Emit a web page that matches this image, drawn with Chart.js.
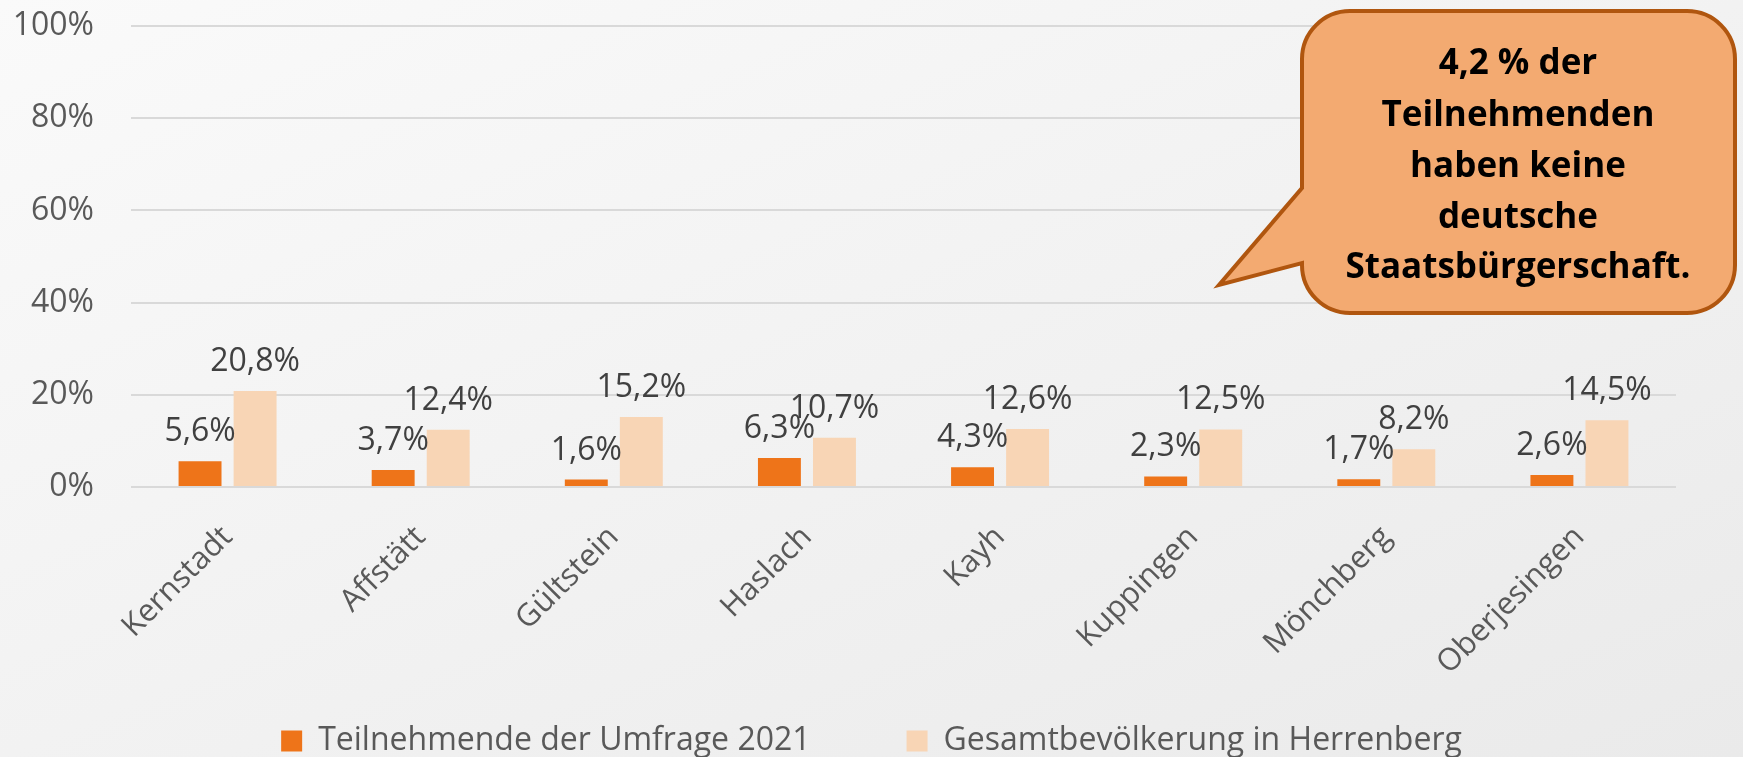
<!DOCTYPE html>
<html lang="de">
<head>
<meta charset="utf-8">
<title>Staatsbürgerschaft nach Stadtteil</title>
<script src="https://cdn.jsdelivr.net/npm/chart.js@4.4.1/dist/chart.umd.min.js"></script>
<style>
  html, body { margin: 0; padding: 0; }
  body {
    width: 1743px; height: 757px; overflow: hidden; position: relative;
    background: linear-gradient(to bottom right, #fafafa, #eaeaea);
  }
  #wrap { position: absolute; left: 0; top: 0; width: 1743px; height: 757px; }
  #callout { position: absolute; left: 0; top: 0; pointer-events: none; }
</style>
</head>
<body>
<div id="wrap"><canvas id="chart"></canvas></div>
<svg id="callout" width="1743" height="757" xmlns="http://www.w3.org/2000/svg">
  <path d="M1350 11 H1687 A48 48 0 0 1 1735 59 V265 A48 48 0 0 1 1687 313 H1350 A48 48 0 0 1 1302 265 V263 L1219 285 L1302 188 V59 A48 48 0 0 1 1350 11 Z"
        fill="#f3aa71" stroke="#b0560f" stroke-width="4" stroke-linejoin="miter"/>
  <g font-family="'Open Sans', sans-serif" font-weight="bold" font-size="35" fill="#000" text-anchor="middle">
    <text x="1518" y="74">4,2 % der</text>
    <text x="1518" y="126">Teilnehmenden</text>
    <text x="1518" y="177">haben keine</text>
    <text x="1518" y="228">deutsche</text>
    <text x="1518" y="278">Staatsbürgerschaft.</text>
  </g>
</svg>
<script>
const stadtteile = ['Kernstadt', 'Affstätt', 'Gültstein', 'Haslach', 'Kayh', 'Kuppingen', 'Mönchberg', 'Oberjesingen'];
const teilnehmende = [5.6, 3.7, 1.6, 6.3, 4.3, 2.3, 1.7, 2.6];
const gesamtbevoelkerung = [20.8, 12.4, 15.2, 10.7, 12.6, 12.5, 8.2, 14.5];
const yTicks = [0, 20, 40, 60, 80, 100];

const FONT = "'Open Sans', sans-serif";

// Prozentwerte über den Balken (deutsches Komma)
const wertLabels = {
  id: 'wertLabels',
  afterDatasetsDraw(chart) {
    const ctx = chart.ctx;
    ctx.save();
    ctx.font = '32px ' + FONT;
    ctx.fillStyle = '#404040';
    ctx.textAlign = 'center';
    ctx.textBaseline = 'alphabetic';
    chart.data.datasets.forEach((ds, i) => {
      chart.getDatasetMeta(i).data.forEach((bar, j) => {
        const txt = ds.data[j].toFixed(1).replace('.', ',') + '%';
        ctx.fillText(txt, bar.x, bar.y - 20);
      });
    });
    ctx.restore();
  }
};

// Legende: flach halten, über die ganze Breite zentrieren und ganz unten zeichnen
const legendeUnten = {
  id: 'legendeUnten',
  beforeInit(chart) {
    const fitOrig = chart.legend.fit;
    chart.legend.fit = function () {
      fitOrig.call(this);
      this.height = 57;
    };
  },
  afterLayout(chart) {
    const lg = chart.legend;
    lg.left = 0;
    lg.right = chart.width;
    lg.width = chart.width;
    lg.top = 725 - lg.options.labels.padding;
  }
};

new Chart(document.getElementById('chart'), {
  type: 'bar',
  data: {
    labels: stadtteile,
    datasets: [
      {
        label: 'Teilnehmende der Umfrage 2021',
        data: teilnehmende,
        backgroundColor: '#ee7419',
        categoryPercentage: 0.57,
        barPercentage: 0.78
      },
      {
        label: 'Gesamtbevölkerung in Herrenberg',
        data: gesamtbevoelkerung,
        backgroundColor: '#f8d5b5',
        categoryPercentage: 0.57,
        barPercentage: 0.78
      }
    ]
  },
  options: {
    responsive: true,
    maintainAspectRatio: false,
    animation: false,
    layout: { padding: { top: 26, right: 67, bottom: 0, left: 0 } },
    scales: {
      x: {
        grid: { display: false },
        border: { display: false },
        ticks: {
          color: '#595959',
          font: { family: FONT, size: 31 },
          minRotation: 45,
          maxRotation: 45,
          padding: 24,
          labelOffset: 0
        },
        afterFit(scale) {
          scale.height = 213;
          scale.paddingLeft = 0;
          scale.paddingRight = 0;
        }
      },
      y: {
        min: 0,
        max: 100,
        afterBuildTicks(scale) { scale.ticks = yTicks.map(v => ({ value: v })); },
        grid: { color: '#d9d9d9', lineWidth: 2, drawTicks: false },
        border: { display: false },
        ticks: {
          color: '#595959',
          font: { family: FONT, size: 32, lineHeight: 1 },
          padding: 37,
          callback: v => v + '%'
        },
        afterFit(scale) {
          scale.width = 131;
          scale.paddingTop = 0;
          scale.paddingBottom = 0;
        }
      }
    },
    plugins: {
      legend: {
        position: 'bottom',
        labels: {
          color: '#595959',
          font: { family: FONT, size: 32 },
          boxWidth: 21,
          boxHeight: 21,
          padding: 96
        }
      },
      tooltip: { enabled: false }
    }
  },
  plugins: [wertLabels, legendeUnten]
});
</script>
</body>
</html>
